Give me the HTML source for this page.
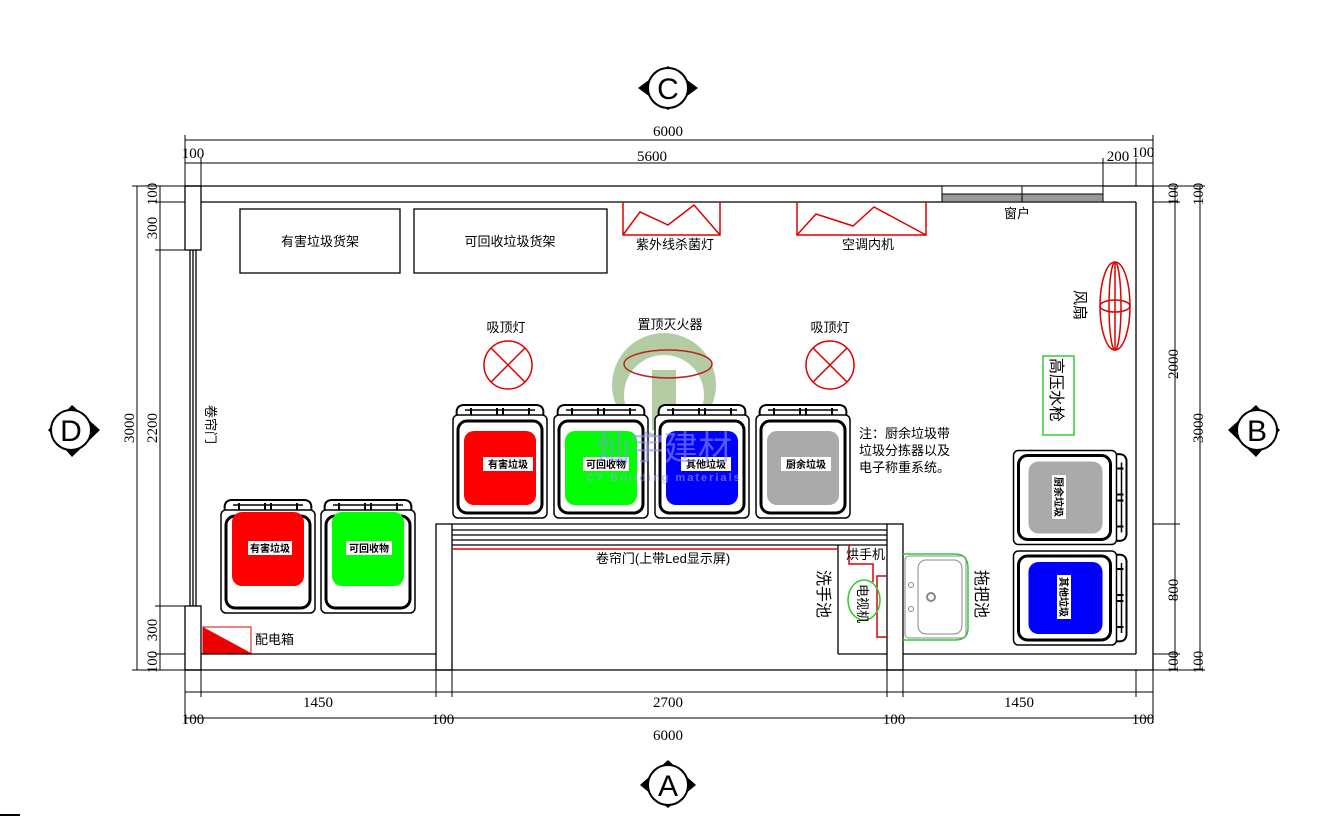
<!DOCTYPE html>
<html><head><meta charset="utf-8"><style>
html,body{margin:0;padding:0;background:#fff;}
svg{display:block;font-family:"Liberation Sans","Noto Sans CJK SC",sans-serif;}
.s{font-family:"Liberation Serif","Noto Serif CJK SC",serif;font-size:15px;}
</style></head><body>
<svg width="1329" height="817" viewBox="0 0 1329 817" xmlns="http://www.w3.org/2000/svg">
<defs>
<g id="binbase">
 <path d="M4 14 Q2 4 10 3 L84 3 Q92 4 90 14 Z" fill="#fff" stroke="#000" stroke-width="2"/>
 <line x1="18" y1="6" x2="18" y2="14" stroke="#000" stroke-width="2"/><line x1="44" y1="6" x2="44" y2="14" stroke="#000" stroke-width="2"/><line x1="50" y1="6" x2="50" y2="14" stroke="#000" stroke-width="2"/><line x1="76" y1="6" x2="76" y2="14" stroke="#000" stroke-width="2"/>
 <line x1="12" y1="8" x2="82" y2="8" stroke="#000" stroke-width="1.5"/>
 <rect x="0" y="13" width="94" height="103" rx="5" fill="#fff" stroke="#000" stroke-width="1.5"/>
 <rect x="5" y="19" width="84" height="92" rx="9" fill="#fff" stroke="#000" stroke-width="3"/>
</g>
</defs>
<g stroke="#000" fill="none" stroke-width="1">
<!-- dimension lines top -->
<line x1="185" y1="140" x2="1153" y2="140"/>
<line x1="185" y1="163" x2="1153" y2="163"/>
<line x1="185" y1="135" x2="185" y2="186"/><line x1="201" y1="158" x2="201" y2="186"/>
<line x1="1103" y1="158" x2="1103" y2="186"/><line x1="1136" y1="158" x2="1136" y2="186"/><line x1="1153" y1="135" x2="1153" y2="186"/>
<!-- left dims -->
<line x1="137" y1="186" x2="137" y2="670"/>
<line x1="160" y1="186" x2="160" y2="670"/>
<line x1="132" y1="186" x2="185" y2="186"/><line x1="155" y1="202" x2="185" y2="202"/><line x1="155" y1="250" x2="185" y2="250"/><line x1="155" y1="606" x2="185" y2="606"/><line x1="155" y1="654" x2="185" y2="654"/><line x1="132" y1="670" x2="185" y2="670"/>
<!-- right dims -->
<line x1="1175" y1="186" x2="1175" y2="670"/>
<line x1="1200" y1="186" x2="1200" y2="670"/>
<line x1="1153" y1="186" x2="1205" y2="186"/><line x1="1153" y1="202" x2="1180" y2="202"/><line x1="1153" y1="524" x2="1180" y2="524"/><line x1="1153" y1="654" x2="1180" y2="654"/><line x1="1153" y1="670" x2="1205" y2="670"/>
<!-- bottom dims -->
<line x1="185" y1="692" x2="1153" y2="692"/>
<line x1="185" y1="718" x2="1153" y2="718"/>
<line x1="185" y1="670" x2="185" y2="723"/><line x1="201" y1="670" x2="201" y2="697"/><line x1="436" y1="670" x2="436" y2="697"/><line x1="452" y1="670" x2="452" y2="697"/><line x1="887" y1="670" x2="887" y2="697"/><line x1="903" y1="670" x2="903" y2="697"/><line x1="1136" y1="670" x2="1136" y2="697"/><line x1="1153" y1="670" x2="1153" y2="723"/>
</g>
<g stroke="#000" fill="none" stroke-width="1.3">
<!-- walls -->
<line x1="185" y1="186" x2="1153" y2="186"/>
<line x1="201" y1="202" x2="1136" y2="202"/>
<line x1="185" y1="670" x2="1153" y2="670"/>
<line x1="201" y1="654" x2="436" y2="654"/>
<line x1="903" y1="654" x2="1136" y2="654"/>
<line x1="1153" y1="186" x2="1153" y2="670"/>
<line x1="1136" y1="202" x2="1136" y2="654"/>
<rect x="185" y="186" width="16" height="64"/>
<rect x="185" y="606" width="16" height="64"/>
<line x1="190" y1="250" x2="190" y2="606"/><line x1="193" y1="250" x2="193" y2="606"/><line x1="196" y1="250" x2="196" y2="606"/>
<!-- counter -->
<rect x="436" y="524" width="16" height="146"/>
<rect x="887" y="524" width="16" height="146"/>
<line x1="452" y1="524" x2="887" y2="524"/>
<line x1="452" y1="530" x2="887" y2="530"/>
<line x1="452" y1="535" x2="887" y2="535"/>
<line x1="452" y1="540" x2="887" y2="540"/>
<line x1="452" y1="545" x2="887" y2="545"/>
<line x1="838" y1="545" x2="838" y2="654"/>
<line x1="838" y1="654" x2="887" y2="654"/>
<!-- shelves -->
<rect x="240" y="209" width="160" height="64"/>
<rect x="414" y="209" width="193" height="64"/>
</g>
<line x1="452" y1="549" x2="838" y2="549" stroke="#e00" stroke-width="1.5"/>
<!-- window -->
<rect x="942" y="186" width="161" height="16" fill="#fff" stroke="#000"/>
<rect x="942" y="194" width="161" height="8" fill="#999" stroke="#000"/>
<line x1="1022" y1="186" x2="1022" y2="202" stroke="#000"/>
<!-- red equipment -->
<g stroke="#d00" fill="none" stroke-width="1.5">
<path d="M623 202 V235 H720 V202 M623 235 L640 212 L668 225 L694 205 L720 235"/>
<path d="M797 202 V235 H926 V202 M797 235 L816 214 L853 226 L874 207 L926 235"/>
<circle cx="508" cy="365" r="24"/><path d="M491 348 L525 382 M525 348 L491 382"/>
<circle cx="830" cy="365" r="24"/><path d="M813 348 L847 382 M847 348 L813 382"/>
<ellipse cx="1115" cy="306" rx="15" ry="44"/><ellipse cx="1115" cy="306" rx="15" ry="6"/><ellipse cx="1115" cy="306" rx="6" ry="44"/><line x1="1115" y1="262" x2="1115" y2="350"/>
<path d="M849 545 V564 H873 V582"/>
<path d="M887 576 H877 V637 H887"/>
</g>
<!-- watermark -->
<g opacity="0.5">
<circle cx="664" cy="385" r="52" fill="#6a9a4a"/>
<circle cx="664" cy="395" r="40" fill="#fff"/>
<rect x="652" y="370" width="24" height="60" fill="#6a9a4a"/>
</g>
<ellipse cx="668" cy="364" rx="44" ry="14" fill="none" stroke="#b22" stroke-width="1.5"/>
<!-- bins top row -->
<use href="#binbase" x="453" y="402"/><rect x="464" y="431" width="72" height="74" rx="10" fill="#f00"/>
<use href="#binbase" x="554" y="402"/><rect x="565" y="431" width="72" height="74" rx="10" fill="#0f0"/>
<use href="#binbase" x="655" y="402"/><rect x="666" y="431" width="72" height="74" rx="10" fill="#00f"/>
<use href="#binbase" x="756" y="402"/><rect x="767" y="431" width="72" height="74" rx="10" fill="#aaa"/>
<use href="#binbase" x="221" y="497"/><rect x="232" y="512" width="72" height="74" rx="10" fill="#f00"/>
<use href="#binbase" x="321" y="497"/><rect x="332" y="512" width="72" height="74" rx="10" fill="#0f0"/>
<g font-size="10" font-weight="bold" text-anchor="middle">
<rect x="483" y="457" width="50" height="14" fill="#fff"/><text x="508" y="468">有害垃圾</text>
<rect x="583" y="457" width="46" height="14" fill="#fff"/><text x="606" y="468">可回收物</text>
<rect x="681" y="457" width="50" height="14" fill="#fff"/><text x="706" y="468">其他垃圾</text>
<rect x="781" y="457" width="50" height="14" fill="#fff"/><text x="806" y="468">厨余垃圾</text>
<rect x="248" y="541" width="44" height="14" fill="#fff"/><text x="270" y="552">有害垃圾</text>
<rect x="346" y="541" width="46" height="14" fill="#fff"/><text x="369" y="552">可回收物</text>
</g>
<text x="664" y="460" font-size="34" fill="#8f8fff" opacity="0.6" text-anchor="middle">灿宇建材</text>
<text x="664" y="481" font-size="11" font-weight="bold" fill="#9f9fff" opacity="0.6" text-anchor="middle" letter-spacing="2">CY Building materials</text>
<!-- right bins rotated -->
<g transform="translate(1071.5,497.5) rotate(90) translate(-47,-58)"><use href="#binbase"/><rect x="11" y="27" width="72" height="74" rx="10" fill="#aaa"/></g>
<g transform="translate(1071.5,598) rotate(90) translate(-47,-58)"><use href="#binbase"/><rect x="11" y="27" width="72" height="74" rx="10" fill="#00f"/></g>
<g font-size="10" font-weight="bold" text-anchor="middle">
<rect x="1052" y="475" width="14" height="44" fill="#fff"/><text transform="translate(1059,497) rotate(90)" y="4">厨余垃圾</text>
<rect x="1057" y="575" width="14" height="44" fill="#fff"/><text transform="translate(1064,597) rotate(90)" y="4">其他垃圾</text>
</g>
<!-- sink -->
<g fill="none">
<path d="M903 554 H955 Q968 554 968 568 V628 Q968 640 955 640 H903" stroke="#3c3" stroke-width="1.5"/>
<rect x="905" y="556" width="61" height="82" rx="4" stroke="#888"/>
<rect x="918" y="560" width="44" height="74" rx="8" stroke="#888"/>
<circle cx="931" cy="597" r="4" stroke="#888" stroke-width="2"/>
<circle cx="911" cy="585" r="2.5" stroke="#888"/><circle cx="911" cy="609" r="2.5" stroke="#888"/>
<ellipse cx="864" cy="600" rx="16" ry="20" stroke="#3c3" stroke-width="1.5"/>
<rect x="1043" y="356" width="31" height="79" stroke="#3c3" stroke-width="1.5"/>
</g>
<!-- electric box -->
<rect x="203" y="627" width="48" height="26" fill="#fff" stroke="#d00"/>
<path d="M203 627 L251 653 L203 653 Z" fill="#e00"/>
<!-- labels -->
<g font-size="13" fill="#000">
<text x="320" y="246" text-anchor="middle">有害垃圾货架</text>
<text x="510" y="246" text-anchor="middle">可回收垃圾货架</text>
<text x="675" y="249" text-anchor="middle">紫外线杀菌灯</text>
<text x="868" y="249" text-anchor="middle">空调内机</text>
<text x="1017" y="218" text-anchor="middle">窗户</text>
<text x="506" y="332" text-anchor="middle">吸顶灯</text>
<text x="830" y="332" text-anchor="middle">吸顶灯</text>
<text x="670" y="329" text-anchor="middle">置顶灭火器</text>
<text x="859" y="438">注：厨余垃圾带</text>
<text x="859" y="455">垃圾分拣器以及</text>
<text x="859" y="472">电子称重系统。</text>
<text x="663" y="563" text-anchor="middle">卷帘门(上带Led显示屏)</text>
<text x="846" y="559">烘手机</text>
<text x="255" y="644">配电箱</text>
<text transform="translate(206,405) rotate(90)">卷帘门</text>
<text transform="translate(1075,290) rotate(90)" font-size="15">风扇</text>
<text transform="translate(1051,358) rotate(90)" font-size="16">高压水枪</text>
<text transform="translate(818,570) rotate(90)" font-size="16">洗手池</text>
<text transform="translate(976,570) rotate(90)" font-size="16">拖把池</text>
<text transform="translate(858,584) rotate(90)">电视机</text>
</g>
<g class="s" text-anchor="middle">
<text x="668" y="136">6000</text>
<text x="652" y="161">5600</text>
<text x="193" y="158">100</text>
<text x="1118" y="161">200</text>
<text x="1143" y="157">100</text>
<text x="318" y="707">1450</text>
<text x="668" y="707">2700</text>
<text x="1019" y="707">1450</text>
<text x="193" y="724">100</text>
<text x="443" y="724">100</text>
<text x="894" y="724">100</text>
<text x="1143" y="724">100</text>
<text x="668" y="740">6000</text>
<text transform="translate(134,428) rotate(-90)">3000</text>
<text transform="translate(157,428) rotate(-90)">2200</text>
<text transform="translate(157,194) rotate(-90)">100</text>
<text transform="translate(157,228) rotate(-90)">300</text>
<text transform="translate(157,630) rotate(-90)">300</text>
<text transform="translate(157,662) rotate(-90)">100</text>
<text transform="translate(1178,364) rotate(-90)">2000</text>
<text transform="translate(1178,590) rotate(-90)">800</text>
<text transform="translate(1178,194) rotate(-90)">100</text>
<text transform="translate(1178,662) rotate(-90)">100</text>
<text transform="translate(1203,428) rotate(-90)">3000</text>
<text transform="translate(1203,194) rotate(-90)">100</text>
<text transform="translate(1203,662) rotate(-90)">100</text>
</g>
<!-- axis markers -->
<g font-family="Liberation Sans,sans-serif" font-size="30" text-anchor="middle">
<path d="M638 88 L668 66 L698 88 L668 110 Z" fill="#000"/><circle cx="668" cy="88" r="20" fill="#fff" stroke="#000" stroke-width="2"/><text x="668" y="99">C</text>
<path d="M640 785 L668 760 L696 785 L668 808 Z" fill="#000"/><circle cx="668" cy="785" r="20" fill="#fff" stroke="#000" stroke-width="2"/><text x="668" y="796">A</text>
<path d="M48 430 L72 405 L100 430 L72 457 Z" fill="#000"/><circle cx="71" cy="430" r="20" fill="#fff" stroke="#000" stroke-width="2"/><text x="71" y="441">D</text>
<path d="M1228 430 L1256 405 L1280 430 L1256 457 Z" fill="#000"/><circle cx="1257" cy="430" r="20" fill="#fff" stroke="#000" stroke-width="2"/><text x="1257" y="441">B</text>
</g>
<line x1="0" y1="815" x2="20" y2="815" stroke="#000" stroke-width="2"/>
</svg>
</body></html>
